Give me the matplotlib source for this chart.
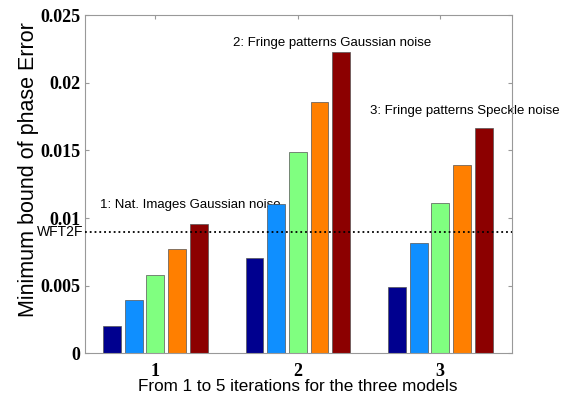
import matplotlib
matplotlib.use("Agg")
import matplotlib.pyplot as plt
import numpy as np

# data
groups = [1, 2, 3]
group_labels = ["1", "2", "3"]
iter1 = [0.00202, 0.00707, 0.00493]
iter2 = [0.00394, 0.01101, 0.00818]
iter3 = [0.00581, 0.01485, 0.01113]
iter4 = [0.00771, 0.01859, 0.01394]
iter5 = [0.00956, 0.02228, 0.01667]
wft2f = 0.009

colors = ["#00008f", "#0f8fff", "#80ff80", "#ff7f00", "#8c0000"]
series = [iter1, iter2, iter3, iter4, iter5]

fig = plt.figure(figsize=(5.69, 3.98), dpi=100)
ax = fig.add_axes([0.149, 0.112, 0.750, 0.850])

step = 0.152
width = 0.125
x = np.array(groups, dtype=float)
for i, (vals, c) in enumerate(zip(series, colors)):
    ax.bar(x + (i - 2) * step, vals, width, color=c, edgecolor="#555555",
           linewidth=0.5, zorder=2)

ax.axhline(wft2f, color="black", linestyle=":", linewidth=1.3, zorder=3)
ax.text(0.497, wft2f, "WFT2F", ha="right", va="center", fontsize=10,
        family="Liberation Sans", zorder=3)

sans = "Liberation Sans"
ax.text(0.61, 0.01096, "1: Nat. Images Gaussian noise", fontsize=9.5,
        family=sans, va="center", zorder=1)
ax.text(1.545, 0.02293, "2: Fringe patterns Gaussian noise", fontsize=9.5,
        family=sans, va="center", zorder=1)
ax.text(2.51, 0.0179, "3: Fringe patterns Speckle noise", fontsize=9.5,
        family=sans, va="center", zorder=1, clip_on=False)

ax.set_xlim(0.505, 3.5)
ax.set_ylim(0, 0.025)
ax.set_xticks(groups)
ax.set_xticklabels(group_labels)
yt = [0, 0.005, 0.01, 0.015, 0.02, 0.025]
ax.set_yticks(yt)
ax.set_yticklabels(["0", "0.005", "0.01", "0.015", "0.02", "0.025"])
for lab in ax.get_xticklabels() + ax.get_yticklabels():
    lab.set_family("Liberation Serif")
    lab.set_fontweight("bold")
    lab.set_fontsize(13)

ax.tick_params(direction="in", top=True, right=True, length=3,
               color="#999999", pad=3)
ax.tick_params(axis="x", pad=7)
for s in ax.spines.values():
    s.set_color("#999999")
    s.set_linewidth(0.8)

ax.set_xlabel("From 1 to 5 iterations for the three models", fontsize=12.3,
              family=sans, labelpad=-1)
ax.set_ylabel("Minimum bound of phase Error", fontsize=15.5, family=sans)
ax.yaxis.set_label_coords(-0.108, 0.543)

fig.savefig("out.png", dpi=100)
